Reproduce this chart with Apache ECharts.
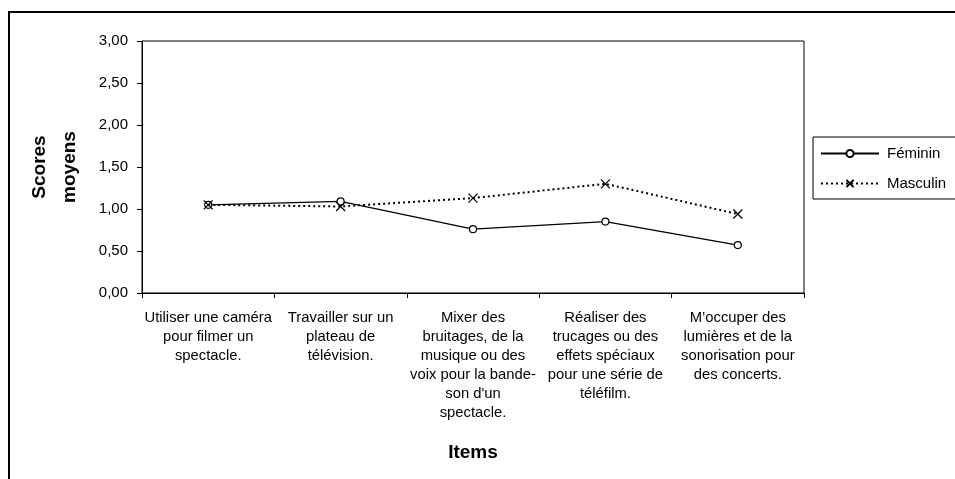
<!DOCTYPE html>
<html>
<head>
<meta charset="utf-8">
<script src="https://cdn.jsdelivr.net/npm/echarts@6/dist/echarts.min.js"></script>
<style>
  html, body { margin: 0; padding: 0; background: #fff; }
  #chart { width: 955px; height: 479px; }
</style>
</head>
<body>
<div id="chart"></div>
<script>
// Items (wrapped as they appear under the axis)
const categories = [
  "Utiliser une caméra\npour filmer un\nspectacle.",
  "Travailler sur un\nplateau de\ntélévision.",
  "Mixer des\nbruitages, de la\nmusique ou des\nvoix pour la bande-\nson d'un\nspectacle.",
  "Réaliser des\ntrucages ou des\neffets spéciaux\npour une série de\ntéléfilm.",
  "M’occuper des\nlumières et de la\nsonorisation pour\ndes concerts."
];
const feminin = [1.05, 1.09, 0.76, 0.85, 0.57];
const masculin = [1.05, 1.03, 1.13, 1.30, 0.94];
const yTicks = { min: 0, max: 3, interval: 0.5 };

const FONT = "'Liberation Sans', Arial, sans-serif";
const crossPath = 'path://M0,0L10,10M10,0L0,10';

const chart = echarts.init(document.getElementById('chart'), null, { renderer: 'canvas' });
chart.setOption({
  backgroundColor: '#ffffff',
  animation: false,
  textStyle: { fontFamily: FONT, color: '#000' },
  graphic: [{
    type: 'rect',
    shape: { x: 9, y: 12, width: 1000, height: 520 },
    style: { fill: 'none', stroke: '#000', lineWidth: 2 },
    silent: true
  }],
  grid: {
    left: 142, top: 41, right: 151, bottom: 186,
    show: true, borderColor: '#000', borderWidth: 1, backgroundColor: 'transparent'
  },
  legend: {
    left: 813, top: 137,
    orient: 'vertical',
    padding: [9, 30, 8, 7],
    itemGap: 15,
    itemWidth: 58, itemHeight: 9,
    borderColor: '#000', borderWidth: 1,
    textStyle: { fontFamily: FONT, fontSize: 15, color: '#000', padding: [0, 0, 0, 3] },
    data: ['Féminin', 'Masculin']
  },
  xAxis: {
    type: 'category',
    data: categories,
    boundaryGap: true,
    name: 'Items',
    nameLocation: 'middle',
    nameGap: 150,
    nameTextStyle: { fontFamily: FONT, fontSize: 19, fontWeight: 'bold', color: '#000' },
    axisLine: { lineStyle: { color: '#000', width: 1 } },
    axisTick: { show: true, length: 5, lineStyle: { color: '#000' } },
    axisLabel: {
      interval: 0, margin: 15,
      fontFamily: FONT, fontSize: 14.8, lineHeight: 19, color: '#000', align: 'center'
    },
    splitLine: { show: false }
  },
  yAxis: {
    type: 'value',
    min: yTicks.min, max: yTicks.max, interval: yTicks.interval,
    name: 'Scores\nmoyens',
    nameLocation: 'middle',
    nameGap: 57,
    nameRotate: 90,
    nameTextStyle: { fontFamily: FONT, fontSize: 19, fontWeight: 'bold', color: '#000', lineHeight: 30, align: 'center' },
    axisLine: { show: true, lineStyle: { color: '#000', width: 1 } },
    axisTick: { show: true, inside: false, length: 5, lineStyle: { color: '#000' } },
    axisLabel: {
      margin: 14, fontFamily: FONT, fontSize: 15, color: '#000',
      formatter: v => v.toFixed(2).replace('.', ',')
    },
    splitLine: { show: false }
  },
  series: [
    {
      name: 'Féminin',
      type: 'line',
      data: feminin,
      symbol: 'circle',
      symbolSize: 7,
      lineStyle: { color: '#000', width: 1.2, type: 'solid' },
      itemStyle: { color: '#fff', borderColor: '#000', borderWidth: 1.2 },
      z: 2
    },
    {
      name: 'Masculin',
      type: 'line',
      data: masculin,
      symbol: crossPath,
      symbolSize: 9,
      lineStyle: { color: '#000', width: 2, type: [2, 3] },
      itemStyle: { color: '#000', borderColor: '#000', borderWidth: 1.2 },
      z: 3
    }
  ]
});
</script>
</body>
</html>
